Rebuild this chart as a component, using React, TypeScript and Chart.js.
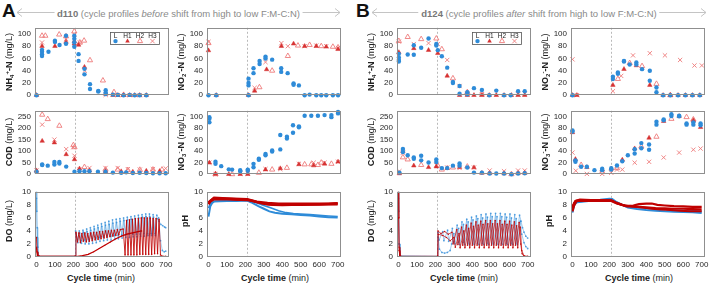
import React, { useEffect, useRef } from "react";
import { Chart, registerables } from "chart.js";
Chart.register(...registerables);

type Pt = [number, number];

// ---------- ticks / labels ----------
const xTicks = [0, 100, 200, 300, 400, 500, 600, 700];
const nTicks = [0, 20, 40, 60, 80, 100];
const codTicks = [0, 50, 100, 150, 200, 250];
const doTicks = [0, 2, 4, 6, 8, 10];
const legendLabels = ["L", "H1", "H2", "H3"];
const aerationStart = 210;

// ---------- A (d110) ----------
const nh4A_L: Pt[] = [[0,0],[30,74],[30,71],[30,67],[30,64],[65,71],[100,89],[100,87],[125,82],[160,97],[160,84],[205,97],[205,92],[205,86],[205,79],[228,67],[228,56],[260,43],[260,34],[290,18],[290,10],[335,6],[335,7],[375,8],[375,4],[375,2],[414,1],[441,0.5],[472,0],[505,0.5],[532,0],[559,0],[595,0]];
const nh4A_H1: Pt[] = [[0,0],[30,80],[100,80],[160,87],[205,88],[205,84],[228,82],[260,46],[375,2],[414,0],[441,0],[472,0],[505,0],[532,0],[559,0],[595,0]];
const nh4A_H2: Pt[] = [[30,97],[48,97],[123,99],[160,96],[205,104],[235,86],[258,89],[290,57],[360,24],[420,5],[472,0.5]];
const nh4A_H3: Pt[] = [[30,86],[160,92],[205,99],[235,86],[262,40],[375,0.5],[441,0],[505,0],[559,0]];

const no2A_L: Pt[] = [[0,0],[42,0],[217,0],[217,27],[217,20],[217,16],[244,44],[244,36],[277,56],[277,51],[309,63],[309,60],[345,58],[394,44],[394,38],[429,36],[461,19],[461,17],[490,16],[521,0],[548,1],[584,0],[611,0],[638,0],[674,0],[702,0]];
const no2A_H1: Pt[] = [[0,73],[42,0],[217,0],[250,7],[315,42],[395,80],[461,84],[521,80],[584,80],[638,79],[702,75]];
const no2A_H2: Pt[] = [[0,85],[276,13],[345,40],[430,64],[485,81],[548,82],[611,80],[674,79],[702,78]];
const no2A_H3: Pt[] = [[0,87],[250,12],[309,54],[395,85],[430,80],[521,80],[584,81],[638,80],[702,77]];

const codA_L: Pt[] = [[0,11],[31,42],[31,40],[61,37],[97,42],[97,53],[124,53],[124,46],[161,33],[206,11],[233,13],[260,13],[287,13],[333,11],[374,11],[414,7],[459,6],[486,8],[522,5],[559,6],[595,5],[631,4],[667,4],[700,4]];
const codA_H1: Pt[] = [[0,16],[31,144],[97,137],[161,86],[206,64],[233,24],[287,16],[374,13],[459,12],[522,10],[595,14],[667,13]];
const codA_H2: Pt[] = [[31,258],[61,239],[124,210],[200,126],[206,117],[260,31],[374,20],[440,20],[495,18],[560,19],[631,20],[680,20]];
const codA_H3: Pt[] = [[0,16],[31,215],[97,150],[161,109],[200,117],[206,80],[233,20],[287,27],[374,27],[440,27],[495,22],[560,20],[631,22],[700,25]];

const no3A_L: Pt[] = [[5,99],[5,96],[5,90],[38,21.5],[38,18],[69,14],[110,8.4],[128,8],[172,7],[172,5],[213,8],[213,6],[244,12],[244,18],[273,27],[273,25],[309,35],[309,33],[345,41],[345,39.5],[389,68],[389,43],[425,65],[425,62],[458,85],[458,72],[490,83],[490,81.5],[521,101.5],[557,101.5],[593,101.5],[629,102.5],[666,102.5],[666,99],[702,108],[702,105.5]];
const no3A_H1: Pt[] = [[5,20],[38,0.5],[110,0],[172,0],[213,0],[309,8],[389,10],[490,17],[570,15],[629,18],[702,21.5]];
const no3A_H2: Pt[] = [[38,0],[128,0],[273,2.5],[345,8],[425,11],[521,17],[557,17],[593,16],[611,20],[666,18]];
const no3A_H3: Pt[] = [[5,20],[38,0],[172,1],[213,1],[309,9],[389,9],[490,18],[570,20],[629,20],[702,21.5]];

const doA_L1: Pt[] = [[0,10],[2,7],[4,4.5],[7,1.5],[10,0.3],[15,0.1],[210,0.1],[212,4.0],[222,2.6],[232,4.0],[242,2.5],[252,4.1],[262,2.6],[272,4.3],[282,2.7],[292,4.5],[302,2.8],[312,4.7],[322,2.9],[332,4.9],[342,3.0],[352,5.1],[362,3.1],[372,5.3],[382,3.2],[392,5.5],[402,3.2],[412,5.7],[422,3.3],[432,5.8],[442,3.3],[452,5.9],[462,3.4],[472,6.0],[482,3.4],[492,6.1],[502,3.5],[512,6.2],[522,3.5],[532,6.3],[542,3.5],[552,6.4],[562,3.5],[572,6.5],[582,3.6],[592,6.6],[602,3.6],[612,6.6],[622,3.6],[632,6.5],[642,3.6],[652,6.4],[662,6.0],[672,2.5],[682,1.0],[692,0.8],[700,0.9]];
const doA_L2: Pt[] = [[0,9],[3,3],[8,0.5],[12,0.1],[210,0.1],[214,3.6],[224,2.2],[234,3.7],[244,2.1],[254,3.8],[264,2.0],[274,3.9],[284,2.0],[294,4.1],[304,2.1],[314,4.3],[324,2.2],[334,4.5],[344,2.4],[354,4.7],[364,2.5],[374,4.9],[384,2.6],[394,5.0],[404,2.6],[414,5.2],[424,2.7],[434,5.3],[444,2.8],[454,5.5],[464,2.9],[474,5.6],[484,3.0],[494,5.7],[504,3.0],[514,5.8],[524,3.1],[534,5.9],[544,3.1],[554,6.0],[564,3.2],[574,6.1],[584,3.2],[594,6.2],[604,3.3],[614,6.2],[624,3.3],[634,6.1],[644,3.3],[654,5.9],[664,5.5],[674,5.0],[684,4.8],[694,4.6],[700,4.5]];
const doA_H1: Pt[] = [[0,3],[3,0.8],[8,0.2],[15,0.15],[210,0.15],[214,3.8],[222,2.3],[230,3.7],[238,2.2],[246,3.6],[254,2.4],[262,3.7],[270,2.3],[278,3.6],[286,2.4],[294,3.7],[302,2.5],[310,3.8],[318,2.6],[326,3.8],[334,2.7],[342,3.9],[350,2.8],[358,3.9],[366,2.9],[374,4.0],[382,3.0],[390,4.0],[398,3.1],[406,4.1],[414,3.2],[422,4.1],[430,3.3],[438,4.2],[446,3.4],[454,4.2],[470,4.3],[480,0.3],[488,5.6],[496,0.3],[504,5.7],[512,0.3],[520,5.8],[528,0.3],[536,5.9],[544,0.3],[552,5.9],[560,0.4],[568,6.0],[576,0.4],[584,6.0],[592,0.4],[600,6.0],[608,0.4],[616,6.0],[624,0.4],[632,5.9],[640,0.5],[648,5.9],[656,0.5],[664,5.8],[672,0.3],[685,0.1],[700,0.1]];
const doA_H2: Pt[] = [[0,1.5],[5,0.2],[12,0.05],[212,0.05],[250,0.2],[280,0.4],[310,0.8],[340,1.3],[370,1.8],[400,2.3],[430,2.8],[460,3.2],[490,3.5],[520,3.7],[550,3.9],[570,4.0]];

const phA_L1: Pt[] = [[0,6.2],[5,7.0],[10,7.8],[20,8.3],[30,8.5],[60,8.55],[100,8.6],[150,8.6],[210,8.65],[230,8.4],[250,8.1],[270,7.8],[300,7.4],[330,7.0],[360,6.8],[400,6.65],[450,6.55],[500,6.45],[550,6.35],[600,6.2],[650,6.1],[700,6.05]];
const phA_L2: Pt[] = [[0,7.5],[10,8.2],[30,8.55],[100,8.6],[210,8.7],[240,8.5],[270,8.2],[300,7.9],[340,7.5],[380,7.1],[420,6.8],[460,6.65],[500,6.6],[550,6.5],[600,6.4],[650,6.3],[700,6.2]];
const phA_H1: Pt[] = [[0,8.3],[10,8.6],[30,9.0],[60,9.0],[100,8.95],[150,8.85],[210,8.8],[240,8.6],[280,8.3],[320,8.1],[360,8.0],[400,8.0],[450,8.05],[500,8.1],[550,8.1],[600,8.1],[650,8.15],[700,8.2]];
const phA_H2: Pt[] = [[0,8.1],[10,8.5],[30,8.85],[100,8.85],[210,8.75],[250,8.5],[300,8.2],[350,8.0],[400,7.95],[450,8.0],[500,8.0],[600,8.05],[700,8.1]];
const phA_H3: Pt[] = [[0,8.4],[30,9.1],[100,9.0],[210,8.9],[260,8.5],[320,8.3],[380,8.2],[450,8.2],[550,8.2],[650,8.2],[700,8.25]];

// ---------- B (d124) ----------
const nh4B_L: Pt[] = [[2,57.5],[2,55],[2,61.5],[2,67.5],[50,66.5],[83,66],[83,81.5],[123,77.5],[163,92.5],[205,83.5],[205,81],[213,73.5],[235,63.5],[264,45],[295,20],[295,21.5],[331,15],[331,2.5],[373,5],[373,1.5],[409,11.5],[452,8.5],[492,0],[530,7.5],[572,0],[608,0],[648,6.5],[684,6.5]];
const nh4B_H1: Pt[] = [[2,70],[83,76.5],[163,73.5],[213,68.5],[264,31.5],[331,0],[373,0],[409,0],[452,0],[492,0],[530,0],[572,0],[612,0],[648,0],[684,0]];
const nh4B_H2: Pt[] = [[2,88.5],[50,95],[123,91.5],[205,92.5],[235,75],[295,27.5],[373,5],[452,2.5]];
const nh4B_H3: Pt[] = [[2,87.5],[83,83.5],[163,85],[213,83.5],[264,57.5],[331,15],[373,2.5],[452,1.5],[648,1.5],[684,2.5]];

const no2B_L: Pt[] = [[0,0],[219,30],[219,26.5],[246,35],[246,37],[279,55],[279,56],[310,50],[346,53.5],[346,50],[377,42.5],[419,40],[419,23.5],[455,12.5],[455,5],[491,0],[530,0],[572,0],[612,0],[650,0],[690,0]];
const no2B_H1: Pt[] = [[0,0],[24,0],[219,16.5],[279,42.5],[346,48.5],[419,16.5],[491,0],[530,0],[572,0],[612,0],[650,0],[690,0]];
const no2B_H2: Pt[] = [[246,26.5],[310,52.5],[377,47.5],[455,18.5],[530,0]];
const no2B_H3: Pt[] = [[0,58.5],[24,0],[219,6.5],[264,31.5],[328,65],[419,68.5],[501,65],[583,57.5],[661,48.5],[701,48.5]];

const codB_L: Pt[] = [[5,7],[24,109],[24,96],[50,82.5],[83,73],[83,66.5],[123,80],[123,60],[163,50.5],[205,53],[205,64],[235,26.5],[264,26.5],[295,37],[331,46.5],[331,37],[373,29],[409,7],[452,7],[494,3],[530,3],[572,3],[612,0],[648,3],[684,4]];
const codB_H1: Pt[] = [[5,3],[24,100],[83,37],[163,30],[205,33],[264,26.5],[331,30],[409,29],[452,5],[494,4],[572,3],[648,4],[684,5]];
const codB_H2: Pt[] = [[24,73],[50,64],[123,40],[213,37],[235,20],[295,29],[373,33],[612,0]];
const codB_H3: Pt[] = [[5,13],[24,93],[205,40],[264,29],[331,27],[409,29],[494,16],[572,13],[648,16],[684,16]];

const no3B_L: Pt[] = [[0,76],[0,74],[16,21.5],[16,24],[47,13],[78,13],[119,7],[161,9.5],[161,7],[210,8],[210,10.5],[241,15],[270,22.5],[300,33],[337,43.5],[337,36],[373,54],[373,45],[415,42.5],[415,51.5],[455,91],[455,86],[494,93.5],[494,95],[536,104],[536,101],[578,100.5],[578,101.5],[618,88],[618,86],[655,86],[655,90],[694,88],[694,85]];
const no3B_H1: Pt[] = [[0,72.5],[16,26],[78,12],[161,8],[210,9.5],[270,25],[337,44.5],[415,63],[494,92],[578,100.5],[655,93.5],[694,81.5]];
const no3B_H2: Pt[] = [[47,16],[161,4],[241,10.5],[373,48],[455,65],[536,96],[618,99],[655,95]];
const no3B_H3: Pt[] = [[0,37.5],[18,6],[78,0.5],[161,0.5],[210,2.5],[241,8],[270,8],[337,20],[415,21.5],[494,29],[578,37.5],[655,42.5],[694,44.5]];

const doB_L1: Pt[] = [[0,10],[2,7],[5,2],[8,0.5],[12,0.1],[212,0.1],[214,3.8],[220,2.6],[240,3.9],[246,2.5],[266,4.1],[272,2.4],[292,4.4],[298,2.3],[318,4.9],[324,2.2],[344,5.4],[350,2.2],[370,5.8],[376,2.1],[396,6.1],[402,2.1],[422,6.3],[428,2.1],[448,6.5],[454,2.1],[474,6.6],[480,2.1],[500,6.7],[506,2.1],[526,6.7],[532,2.1],[552,6.7],[558,2.1],[578,6.6],[584,2.1],[604,6.6],[610,2.1],[630,6.5],[636,2.1],[656,6.4],[664,5.5],[672,4.5],[680,3.8],[690,3.2],[700,2.9]];
const doB_L2: Pt[] = [[0,9],[3,2],[8,0.2],[212,0.1],[215,3.0],[222,1.2],[235,0.7],[250,0.6],[265,0.7],[280,1.0],[288,2.0],[300,3.6],[306,2.0],[326,4.4],[332,1.9],[352,5.0],[358,1.9],[378,5.4],[384,1.9],[404,5.7],[410,1.9],[430,5.9],[436,1.9],[456,6.0],[462,1.9],[482,6.1],[488,1.9],[508,6.2],[514,1.9],[534,6.2],[540,1.9],[560,6.2],[566,1.9],[586,6.1],[592,1.9],[612,6.0],[618,1.9],[638,5.9],[644,1.9],[660,5.5],[668,3.5],[680,2.2],[690,1.6],[700,1.3]];
const doB_H1: Pt[] = [[0,10],[2,6],[4,1.5],[8,0.2],[12,0.1],[212,0.1],[214,4.0],[230,3.6],[250,3.9],[270,3.5],[290,3.8],[296,2.0],[316,4.2],[322,1.9],[342,4.6],[348,1.8],[368,4.9],[374,1.8],[394,5.2],[400,1.8],[420,5.4],[426,1.8],[446,5.5],[452,1.8],[472,5.6],[478,1.8],[498,5.6],[504,1.8],[524,5.6],[530,1.8],[550,5.6],[556,1.8],[576,5.5],[582,1.8],[602,5.5],[608,1.8],[628,5.4],[634,1.8],[654,5.3],[662,2.0],[670,0.5],[680,0.1],[700,0.05]];
const doB_H2: Pt[] = [[0,6],[3,1],[8,0.1],[212,0.1],[215,3.5],[240,3.3],[260,3.0],[280,2.5],[300,3.0],[308,1.5],[328,3.6],[334,1.4],[354,4.0],[360,1.4],[380,4.4],[386,1.4],[406,4.7],[412,1.4],[432,4.9],[438,1.4],[458,5.0],[464,1.4],[484,5.1],[490,1.4],[510,5.1],[516,1.4],[536,5.1],[542,1.4],[562,5.0],[568,1.4],[588,5.0],[594,1.4],[614,4.9],[620,1.4],[640,4.8],[646,1.4],[660,4.6],[668,1.0],[680,0.2],[700,0.1]];

const phB_L1: Pt[] = [[0,6.8],[5,7.5],[12,8.2],[25,8.5],[60,8.6],[100,8.7],[150,8.8],[200,8.95],[215,8.9],[240,8.4],[270,8.0],[300,7.6],[350,7.35],[400,7.2],[450,7.1],[500,7.0],[550,6.95],[600,6.9],[650,6.85],[700,6.75]];
const phB_L2: Pt[] = [[0,7.2],[10,8.0],[25,8.4],[100,8.6],[200,8.8],[230,8.5],[270,8.0],[300,7.7],[350,7.6],[400,7.5],[450,7.4],[500,7.3],[550,7.2],[600,7.15],[650,7.1],[700,7.0]];
const phB_H1: Pt[] = [[0,7.0],[8,7.8],[20,8.5],[40,8.7],[100,8.7],[150,8.7],[210,8.7],[240,8.3],[270,8.0],[300,7.8],[330,7.9],[360,8.1],[400,8.2],[430,8.2],[460,8.0],[500,7.9],[550,7.8],[600,7.75],[650,7.7],[700,7.7]];
const phB_H2: Pt[] = [[0,7.5],[10,8.3],[25,8.65],[100,8.6],[210,8.6],[240,8.2],[280,7.9],[320,7.8],[360,7.7],[400,7.6],[450,7.5],[500,7.45],[550,7.4],[600,7.4],[650,7.35],[700,7.3]];
const phB_H3: Pt[] = [[0,7.8],[15,8.6],[40,8.8],[100,8.75],[210,8.7],[245,8.2],[290,7.8],[330,7.7],[380,7.6],[430,7.4],[480,7.3],[530,7.2],[580,7.1],[640,7.0],[700,7.0]];

// ---------- styling ----------
const BLUE = "#2e8bd8";
const BLUE_T = "rgba(46,139,216,0.75)";
const RED = "#d63232";
const PINK = "#ee7b7b";
const DARKRED = "#c00000";
const DARKRED_T = "rgba(192,0,0,0.85)";
const FONT = "Arial, 'Liberation Sans', sans-serif";

const toXY = (d: Pt[]) => d.map(([x, y]) => ({ x, y }));

function sc(kind: string, d: Pt[]) {
  const base: any = { data: toXY(d), showLine: false, clip: false };
  if (kind === "L") return { ...base, pointStyle: "circle", pointRadius: 2.2, backgroundColor: BLUE, borderColor: BLUE, borderWidth: 0 };
  if (kind === "H1") return { ...base, pointStyle: "triangle", pointRadius: 2.6, backgroundColor: RED, borderColor: RED, borderWidth: 0.5 };
  if (kind === "H2") return { ...base, pointStyle: "triangle", pointRadius: 3, backgroundColor: "rgba(0,0,0,0)", borderColor: PINK, borderWidth: 0.9 };
  return { ...base, pointStyle: "crossRot", pointRadius: 3, backgroundColor: PINK, borderColor: PINK, borderWidth: 0.9 };
}
function four(L: Pt[], H1: Pt[], H2: Pt[], H3: Pt[]) {
  return [sc("L", L), sc("H1", H1), sc("H2", H2), sc("H3", H3)];
}
function ln(d: Pt[], color: string, w: number, r: number) {
  return { data: toXY(d), showLine: true, borderColor: color, backgroundColor: color, borderWidth: w, pointRadius: r, pointBorderWidth: 0, tension: 0 };
}

function drawMarker(ctx: CanvasRenderingContext2D, kind: string, x: number, y: number) {
  ctx.save();
  if (kind === "L") {
    ctx.fillStyle = BLUE; ctx.beginPath(); ctx.arc(x, y, 2.2, 0, Math.PI * 2); ctx.fill();
  } else if (kind === "H1" || kind === "H2") {
    const r = kind === "H1" ? 2.6 : 3;
    ctx.beginPath();
    ctx.moveTo(x, y - r); ctx.lineTo(x + r * 0.866, y + r * 0.5); ctx.lineTo(x - r * 0.866, y + r * 0.5); ctx.closePath();
    if (kind === "H1") { ctx.fillStyle = RED; ctx.fill(); } else { ctx.strokeStyle = PINK; ctx.lineWidth = 0.9; ctx.stroke(); }
  } else {
    const r = 2.2; ctx.strokeStyle = PINK; ctx.lineWidth = 0.9;
    ctx.beginPath(); ctx.moveTo(x - r, y - r); ctx.lineTo(x + r, y + r); ctx.moveTo(x + r, y - r); ctx.lineTo(x - r, y + r); ctx.stroke();
  }
  ctx.restore();
}

const framePlugin = {
  id: "frame",
  beforeDatasetsDraw(chart: any) {
    const { ctx, chartArea } = chart;
    const x = Math.round(chart.scales.x.getPixelForValue(aerationStart)) + 0.5;
    ctx.save();
    ctx.strokeStyle = "#a8a8a8"; ctx.lineWidth = 0.8; ctx.setLineDash([2, 2]);
    ctx.beginPath(); ctx.moveTo(x, chartArea.top); ctx.lineTo(x, chartArea.bottom); ctx.stroke();
    ctx.restore();
  },
  afterDatasetsDraw(chart: any) {
    const { ctx, chartArea } = chart;
    ctx.save();
    ctx.strokeStyle = "#8f8f8f"; ctx.lineWidth = 1;
    ctx.strokeRect(Math.round(chartArea.left) + 0.5, Math.round(chartArea.top) + 0.5, Math.round(chartArea.right - chartArea.left) - 1, Math.round(chartArea.bottom - chartArea.top) - 1);
    if (chart.options.plugins.miniLegend && chart.options.plugins.miniLegend.show) {
      const w = 49, h = 12;
      const lx = Math.round(chartArea.right - 10 - w) + 0.5, ly = Math.round(chartArea.top + 4) + 0.5;
      ctx.fillStyle = "#fff"; ctx.fillRect(lx, ly, w, h);
      ctx.strokeStyle = "#555"; ctx.lineWidth = 0.8; ctx.strokeRect(lx, ly, w, h);
      const kinds = ["L", "H1", "H2", "H3"];
      const offs = [5, 17, 29.5, 42];
      ctx.fillStyle = "#222"; ctx.font = `6.5px ${FONT}`; ctx.textAlign = "center"; ctx.textBaseline = "middle";
      legendLabels.forEach((lab, i) => {
        ctx.fillText(lab, lx + offs[i], ly + 3.4);
        drawMarker(ctx, kinds[i], lx + offs[i], ly + 8.6);
      });
    }
    ctx.restore();
  },
};

const YW = 26, PT = 6, PR = 8;

type Spec = { left: number; top: number; w: number; h: number; yMax: number; yTicks: number[]; showX: boolean; legend?: boolean; datasets: any[] };

function Panel({ spec }: { spec: Spec }) {
  const ref = useRef<HTMLCanvasElement>(null);
  const XH = spec.showX ? 16 : 6;
  const cw = spec.w + YW + PR;
  const ch = spec.h + PT + XH;
  useEffect(() => {
    const tickFont = { family: FONT, size: 8 };
    const chart = new Chart(ref.current as HTMLCanvasElement, {
      type: "scatter",
      data: { datasets: spec.datasets },
      options: {
        animation: false,
        responsive: false,
        devicePixelRatio: 1,
        layout: { padding: { left: 0, top: PT, right: PR, bottom: 0 } },
        plugins: { legend: { display: false }, tooltip: { enabled: false }, miniLegend: { show: !!spec.legend } } as any,
        scales: {
          x: {
            type: "linear", min: -8, max: 718,
            afterBuildTicks: (a: any) => { a.ticks = xTicks.map((v) => ({ value: v })); },
            afterFit: (s: any) => { s.height = XH; },
            ticks: { display: spec.showX, font: tickFont, color: "#262626", padding: 3, maxRotation: 0, autoSkip: false },
            grid: { display: false, drawTicks: false }, border: { display: false },
          },
          y: {
            type: "linear", min: 0, max: spec.yMax,
            afterBuildTicks: (a: any) => { a.ticks = spec.yTicks.map((v) => ({ value: v })); },
            afterFit: (s: any) => { s.width = YW; },
            ticks: { font: tickFont, color: "#262626", padding: 4 },
            grid: { display: false, drawTicks: false }, border: { display: false },
          },
        },
      },
      plugins: [framePlugin],
    });
    return () => chart.destroy();
  }, []);
  return (
    <canvas ref={ref} width={cw} height={ch}
      style={{ position: "absolute", left: spec.left - YW, top: spec.top - PT, width: cw, height: ch }} />
  );
}

const COLS = { AL: 35, AR: 207, BL: 397, BR: 571 };
const W = 134;
const R1 = { top: 25, h: 73 }, R2 = { top: 108, h: 69 }, R3 = { top: 189, h: 68 };

const specs: Spec[] = [
  { left: COLS.AL, top: R1.top, w: W, h: R1.h, yMax: 110, yTicks: nTicks, showX: false, legend: true, datasets: four(nh4A_L, nh4A_H1, nh4A_H2, nh4A_H3) },
  { left: COLS.AR, top: R1.top, w: W, h: R1.h, yMax: 110, yTicks: nTicks, showX: false, datasets: four(no2A_L, no2A_H1, no2A_H2, no2A_H3) },
  { left: COLS.AL, top: R2.top, w: W, h: R2.h, yMax: 275, yTicks: codTicks, showX: false, datasets: four(codA_L, codA_H1, codA_H2, codA_H3) },
  { left: COLS.AR, top: R2.top, w: W, h: R2.h, yMax: 110, yTicks: nTicks, showX: false, datasets: four(no3A_L, no3A_H1, no3A_H2, no3A_H3) },
  { left: COLS.AL, top: R3.top, w: W, h: R3.h, yMax: 10, yTicks: doTicks, showX: true, datasets: [ln(doA_H1, DARKRED_T, 1, 0.8), ln(doA_H2, DARKRED, 1.3, 0.6), ln(doA_L1, BLUE_T, 0.5, 0.9), ln(doA_L2, BLUE_T, 0.5, 0.9)] },
  { left: COLS.AR, top: R3.top, w: W, h: R3.h, yMax: 10, yTicks: doTicks, showX: true, datasets: [ln(phA_H1, DARKRED, 2.4, 0), ln(phA_H2, DARKRED, 2.4, 0), ln(phA_H3, DARKRED, 2.2, 0), ln(phA_L1, BLUE, 2, 0), ln(phA_L2, BLUE, 1.6, 0)] },
  { left: COLS.BL, top: R1.top, w: W, h: R1.h, yMax: 110, yTicks: nTicks, showX: false, legend: true, datasets: four(nh4B_L, nh4B_H1, nh4B_H2, nh4B_H3) },
  { left: COLS.BR, top: R1.top, w: W, h: R1.h, yMax: 110, yTicks: nTicks, showX: false, datasets: four(no2B_L, no2B_H1, no2B_H2, no2B_H3) },
  { left: COLS.BL, top: R2.top, w: W, h: R2.h, yMax: 275, yTicks: codTicks, showX: false, datasets: four(codB_L, codB_H1, codB_H2, codB_H3) },
  { left: COLS.BR, top: R2.top, w: W, h: R2.h, yMax: 110, yTicks: nTicks, showX: false, datasets: four(no3B_L, no3B_H1, no3B_H2, no3B_H3) },
  { left: COLS.BL, top: R3.top, w: W, h: R3.h, yMax: 10, yTicks: doTicks, showX: true, datasets: [ln(doB_H1, DARKRED_T, 0.8, 0.8), ln(doB_H2, DARKRED_T, 0.8, 0.8), ln(doB_L1, BLUE_T, 0.6, 0.9), ln(doB_L2, BLUE_T, 0.6, 0.9)] },
  { left: COLS.BR, top: R3.top, w: W, h: R3.h, yMax: 10, yTicks: doTicks, showX: true, datasets: [ln(phB_H1, DARKRED, 2.2, 0), ln(phB_H2, DARKRED, 2.2, 0), ln(phB_H3, DARKRED, 2, 0), ln(phB_L1, BLUE, 2, 0), ln(phB_L2, BLUE, 1.8, 0)] },
];

const subS: React.CSSProperties = { fontSize: "6px", verticalAlign: "-2px" };
const supS: React.CSSProperties = { fontSize: "6px", verticalAlign: "3px" };
const T_NH4 = <><b>NH<span style={subS}>4</span><span style={supS}>+</span>-N</b> (mg/L)</>;
const T_NO2 = <><b>NO<span style={subS}>2</span><span style={supS}>-</span>-N</b> (mg/L)</>;
const T_NO3 = <><b>NO<span style={subS}>3</span><span style={supS}>-</span>-N</b> (mg/L)</>;
const T_COD = <><b>COD</b> (mg/L)</>;
const T_DO = <><b>DO</b> (mg/L)</>;
const T_PH = <><b>pH</b></>;

function YTitle({ x, y, children }: { x: number; y: number; children: React.ReactNode }) {
  return (
    <div style={{ position: "absolute", left: x, top: y, transform: "translate(-50%,-50%) rotate(-90deg)", whiteSpace: "nowrap", fontSize: 9, color: "#222", lineHeight: "10px" }}>{children}</div>
  );
}
function XTitle({ x }: { x: number }) {
  return (
    <div style={{ position: "absolute", left: x, top: 278, transform: "translate(-50%,-50%)", whiteSpace: "nowrap", fontSize: 9, color: "#222", lineHeight: "10px" }}>
      <b>Cycle time</b> (min)
    </div>
  );
}
function Header({ letter, lx, x1, x2, day, word }: { letter: string; lx: number; x1: number; x2: number; day: string; word: string }) {
  const y = 12;
  return (
    <>
      <div style={{ position: "absolute", left: lx, top: 1, fontSize: 19, fontWeight: "bold", color: "#111", lineHeight: "20px" }}>{letter}</div>
      <svg style={{ position: "absolute", left: 0, top: 0 }} width={710} height={24}>
        <line x1={x1} y1={y + 0.5} x2={x2} y2={y + 0.5} stroke="#c4c4c4" strokeWidth={1} />
        <polyline points={`${x1 + 5},${y - 3.5} ${x1},${y + 0.5} ${x1 + 5},${y + 4.5}`} fill="none" stroke="#c4c4c4" strokeWidth={1} />
        <polyline points={`${x2 - 5},${y - 3.5} ${x2},${y + 0.5} ${x2 - 5},${y + 4.5}`} fill="none" stroke="#c4c4c4" strokeWidth={1} />
      </svg>
      <div style={{ position: "absolute", left: (x1 + x2) / 2, top: y + 0.5, transform: "translate(-50%,-50%)", whiteSpace: "nowrap", fontSize: 9.5, color: "#8a8a8a", background: "#fff", padding: "0 3px", lineHeight: "11px" }}>
        <b style={{ color: "#777" }}>{day}</b> (cycle profiles <i>{word}</i> shift from high to low F:M-C:N)
      </div>
    </>
  );
}

export default function App() {
  return (
    <div style={{ position: "absolute", left: 0, top: 0, width: 710, height: 284, background: "#fff", overflow: "hidden", fontFamily: FONT }}>
      <Header letter="A" lx={2} x1={17} x2={340} day="d110" word="before" />
      <Header letter="B" lx={356} x1={372} x2={706} day="d124" word="after" />
      {specs.map((s, i) => <Panel key={i} spec={s} />)}
      <YTitle x={COLS.AL - 26} y={62}>{T_NH4}</YTitle>
      <YTitle x={COLS.AL - 26} y={142}>{T_COD}</YTitle>
      <YTitle x={COLS.AL - 26} y={221}>{T_DO}</YTitle>
      <YTitle x={COLS.AR - 26} y={62}>{T_NO2}</YTitle>
      <YTitle x={COLS.AR - 26} y={142}>{T_NO3}</YTitle>
      <YTitle x={COLS.AR - 22} y={221}>{T_PH}</YTitle>
      <YTitle x={COLS.BL - 26} y={62}>{T_NH4}</YTitle>
      <YTitle x={COLS.BL - 26} y={142}>{T_COD}</YTitle>
      <YTitle x={COLS.BL - 26} y={221}>{T_DO}</YTitle>
      <YTitle x={COLS.BR - 26} y={62}>{T_NO2}</YTitle>
      <YTitle x={COLS.BR - 26} y={142}>{T_NO3}</YTitle>
      <YTitle x={COLS.BR - 22} y={221}>{T_PH}</YTitle>
      <XTitle x={COLS.AL + 66} />
      <XTitle x={COLS.AR + 68} />
      <XTitle x={COLS.BL + 67} />
      <XTitle x={COLS.BR + 68} />
    </div>
  );
}
